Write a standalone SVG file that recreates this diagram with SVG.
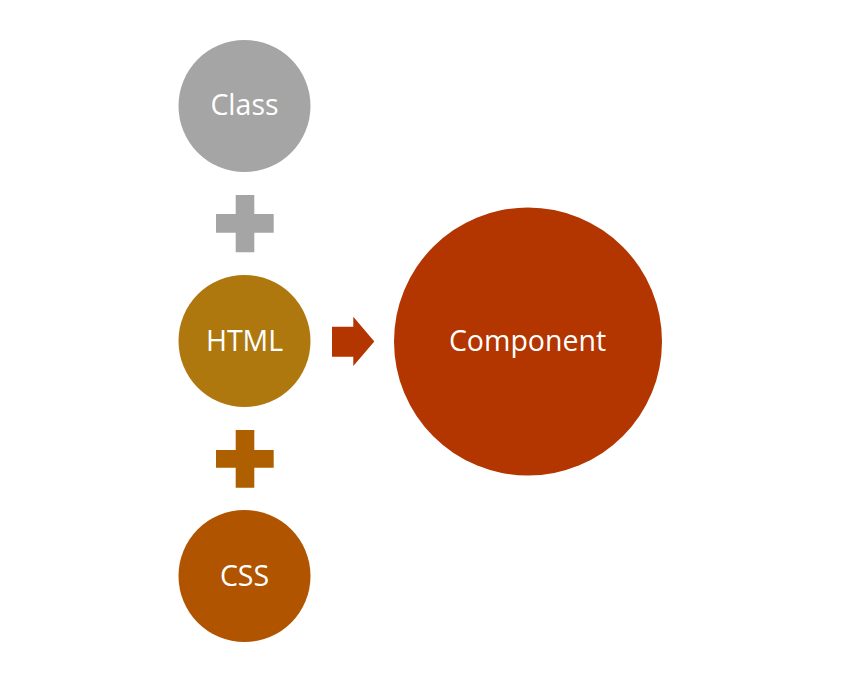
<svg xmlns="http://www.w3.org/2000/svg" width="842" height="688" viewBox="0 0 842 688">
<style>
.lbl{font-family:"Open Sans","Liberation Sans",sans-serif;fill:#ffffff;text-anchor:middle;font-size:28.5px}
</style>
<rect width="842" height="688" fill="#ffffff"/>
<g id="class"><circle cx="244.5" cy="106" r="66" fill="#A5A5A5"/><text class="lbl" x="244.5" y="115">Class</text></g>
<g id="html"><circle cx="244.5" cy="341" r="66" fill="#AE780F"/><text class="lbl" x="244.5" y="351">HTML</text></g>
<g id="css"><circle cx="244.5" cy="576" r="66" fill="#B05400"/><text class="lbl" x="244.5" y="586">CSS</text></g>
<g id="component"><circle cx="528" cy="341.5" r="134" fill="#B33500"/><text class="lbl" x="527.5" y="351">Component</text></g>
<g id="connectors">
<polygon id="plus1" fill="#A5A5A5" points="235.7,195 254.3,195 254.3,214 273.7,214 273.7,232.7 254.3,232.7 254.3,252.3 235.7,252.3 235.7,232.7 216,232.7 216,214 235.7,214"/>
<polygon id="plus2" fill="#AE6000" points="235.7,430 254.3,430 254.3,450 273.7,450 273.7,467.7 254.3,467.7 254.3,487.7 235.7,487.7 235.7,467.7 216,467.7 216,450 235.7,450"/>
<polygon id="arrow" fill="#B33500" points="332,326.7 353.3,326.7 353.3,316.7 374.3,341.5 353.3,366 353.3,356.7 332,356.7"/>
</g>
</svg>
